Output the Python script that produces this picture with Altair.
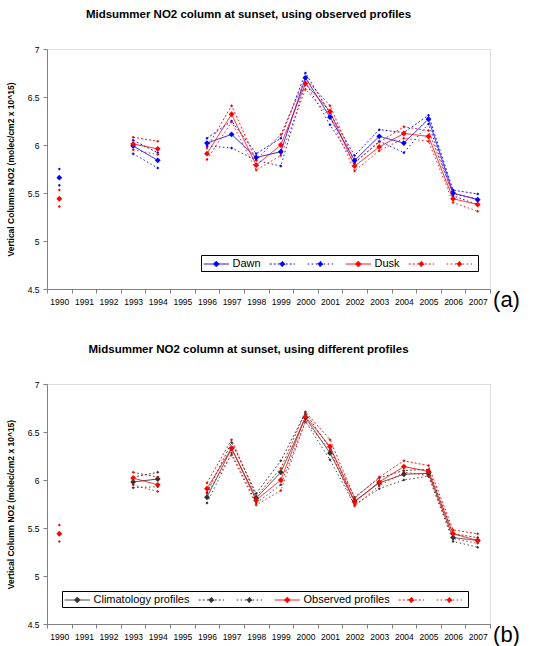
import altair as alt
import pandas as pd

years = [str(y) for y in range(1990, 2008)]

# ---- panel (a): observed profiles, dawn vs dusk ----
dawn    = [5.66, None, None, 5.99, 5.84, None, 6.02, 6.11, 5.87, 5.93, 6.70, 6.29, 5.84, 6.09, 6.02, 6.27, 5.50, 5.43]
dawn_hi = [5.75, None, None, 6.05, 5.92, None, 6.07, 6.25, 5.91, 6.07, 6.75, 6.33, 5.89, 6.16, 6.13, 6.31, 5.53, 5.49]
dawn_lo = [5.58, None, None, 5.91, 5.76, None, 5.99, 5.97, 5.84, 5.78, 6.65, 6.21, 5.81, 6.04, 5.92, 6.22, 5.47, 5.38]
dusk    = [5.44, None, None, 6.01, 5.96, None, 5.91, 6.32, 5.79, 6.00, 6.64, 6.35, 5.78, 5.98, 6.12, 6.09, 5.44, 5.38]
dusk_hi = [5.53, None, None, 6.08, 6.04, None, 5.97, 6.41, 5.84, 6.11, 6.69, 6.41, 5.82, 6.03, 6.19, 6.15, 5.49, 5.44]
dusk_lo = [5.36, None, None, 5.95, 5.90, None, 5.85, 6.24, 5.74, 5.89, 6.58, 6.29, 5.73, 5.94, 6.07, 6.04, 5.40, 5.31]

# ---- panel (b): climatology vs observed profiles ----
clim    = [None, None, None, 5.98, 6.01, None, 5.82, 6.33, 5.81, 6.08, 6.65, 6.28, 5.78, 5.97, 6.06, 6.07, 5.40, 5.37]
clim_hi = [None, None, None, 6.03, 6.08, None, 5.87, 6.39, 5.86, 6.20, 6.70, 6.33, 5.82, 6.02, 6.10, 6.11, 5.44, 5.40]
clim_lo = [None, None, None, 5.92, 5.93, None, 5.76, 6.28, 5.76, 5.95, 6.61, 6.21, 5.74, 5.91, 6.00, 6.04, 5.36, 5.30]
obs     = [5.44, None, None, 6.02, 5.95, None, 5.91, 6.33, 5.79, 6.00, 6.66, 6.35, 5.77, 5.98, 6.14, 6.09, 5.44, 5.37]
obs_hi  = [5.53, None, None, 6.08, 6.03, None, 5.97, 6.42, 5.83, 6.12, 6.71, 6.42, 5.81, 6.03, 6.20, 6.15, 5.48, 5.44]
obs_lo  = [5.36, None, None, 5.95, 5.88, None, 5.86, 6.26, 5.74, 5.89, 6.61, 6.31, 5.73, 5.94, 6.08, 6.05, 5.39, 5.34]

names_a = ["Dawn", "Dawn hi", "Dawn lo", "Dusk", "Dusk hi", "Dusk lo"]
names_b = ["Climatology profiles", "Clim hi", "Clim lo", "Observed profiles", "Obs hi", "Obs lo"]

FONT = "Liberation Sans"


def seg_of(yr):
    y = int(yr)
    return 0 if y < 1993 else (1 if y < 1995 else 2)


def long_df(names, series):
    rows = []
    for name, vals in zip(names, series):
        for yr, v in zip(years, vals):
            if v is not None:
                rows.append({"year": yr, "series": name, "value": v,
                             "seg": seg_of(yr), "main": name in names[::3]})
    return pd.DataFrame(rows)


def panel(df, names, colors, title, ytitle, tag, lx, ly, width):
    main_names = [names[0], names[3]]
    label_expr = ("datum.label == '%s' || datum.label == '%s' ? datum.label : ''"
                  % (main_names[0], main_names[1]))
    legend = alt.Legend(
        orient="none", legendX=lx, legendY=ly, direction="horizontal", columns=6,
        title=None, symbolType="M-1,0H3M0.55,0L1,-0.45L1.45,0L1,0.45Z",
        symbolSize=160, symbolStrokeWidth=1, labelExpr=label_expr,
        labelFontSize=11, labelFont=FONT, labelColor="black",
        strokeColor="black", fillColor="white", padding=2,
        columnPadding=6, labelOffset=15.5, cornerRadius=0,
    )
    dash_range = [[1, 0], [2, 2], [1.5, 2.5], [1, 0], [2, 2], [1.5, 2.5]]
    x = alt.X(
        "year:O",
        scale=alt.Scale(type="band", domain=years, paddingInner=0, paddingOuter=0),
        axis=alt.Axis(
            title=tag, titleFontSize=22, titleFontWeight="normal", titleFont=FONT,
            titleX=width + 16, titleY=10, titleAlign="center", titleBaseline="middle",
            titleAnchor="end", tickBand="extent", labelAngle=0, labelOverlap=False,
            labelFontSize=8.5, labelFont=FONT, labelColor="black",
            tickSize=4, labelPadding=4, domainColor="#808080", tickColor="#808080",
            grid=False,
        ),
    )
    y = alt.Y(
        "value:Q",
        scale=alt.Scale(domain=[4.5, 7], nice=False, zero=False),
        axis=alt.Axis(
            title=ytitle, values=[4.5, 5, 5.5, 6, 6.5, 7], format="~g",
            titleFontSize=8.5, titleFont=FONT, titleFontWeight="bold", titlePadding=12,
            labelFontSize=8.5, labelFont=FONT, labelColor="black",
            tickSize=4, labelPadding=4, domainColor="#808080", tickColor="#808080",
            grid=False,
        ),
    )
    stroke = alt.Stroke("series:N", scale=alt.Scale(domain=names, range=colors), legend=legend)
    dash = alt.StrokeDash("series:N", scale=alt.Scale(domain=names, range=dash_range), legend=legend)
    fill = alt.Fill("series:N", scale=alt.Scale(domain=names, range=colors), legend=legend)

    base = alt.Chart(df)
    lines = base.mark_line(strokeWidth=0.9).encode(
        x=x, y=y, stroke=stroke, strokeDash=dash, detail="seg:N"
    )
    pts_small = base.transform_filter("!datum.main").mark_point(
        shape="diamond", filled=True, size=9, opacity=1
    ).encode(x=x, y=y, fill=fill)
    pts_main = base.transform_filter("datum.main").mark_point(
        shape="diamond", filled=True, size=34, opacity=1
    ).encode(x=x, y=y, fill=fill)
    return alt.layer(lines, pts_small, pts_main).properties(
        width=width, height=240,
        title=alt.TitleParams(title, fontSize=11.5, font=FONT, fontWeight="bold",
                              anchor="middle", dx=-20, offset=25, color="black"),
    )


df_a = long_df(names_a, [dawn, dawn_hi, dawn_lo, dusk, dusk_hi, dusk_lo])
df_b = long_df(names_b, [clim, clim_hi, clim_lo, obs, obs_hi, obs_lo])

col_a = ["#0000FF", "#0000FF", "#0000FF", "#FF0000", "#FF0000", "#FF0000"]
col_b = ["#333333", "#333333", "#333333", "#FF0000", "#FF0000", "#FF0000"]

pa = panel(df_a, names_a, col_a, "Midsummer NO2 column at sunset, using observed profiles",
           "Vertical Columns NO2 (molec/cm2 x 10^15)", "(a)", 154, 206, 443)
pb = panel(df_b, names_b, col_b, "Midsummer NO2 column at sunset, using different profiles",
           "Vertical Column NO2 (molec/cm2 x 10^15)", "(b)", 15, 207, 443)

chart = alt.vconcat(pa, pb, spacing=32).resolve_scale(
    stroke="independent", fill="independent", strokeDash="independent"
).resolve_legend(
    stroke="independent", fill="independent", strokeDash="independent"
).properties(
    padding={"left": 5, "top": 8, "right": 0, "bottom": 0}
).configure_view(
    stroke="#9a9a9a", strokeWidth=1.5
).configure(font=FONT)

chart.save("out.html", embed_options={"renderer": "svg", "actions": False})
